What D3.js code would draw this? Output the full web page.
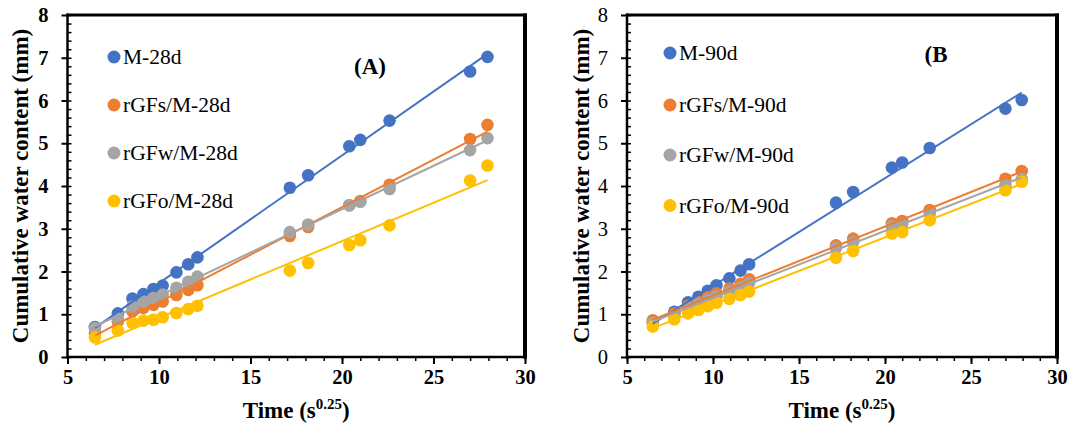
<!DOCTYPE html>
<html><head><meta charset="utf-8">
<script src="https://cdn.jsdelivr.net/npm/d3@7"></script>
<style>
html,body{margin:0;padding:0;background:#fff;}
svg{display:block;font-family:"Liberation Serif","Times New Roman",serif;}
</style></head>
<body>
<svg id="chart" width="1071" height="425"></svg>
<script>
// ---- data ----
const time = [6.5, 7.75, 8.55, 9.15, 9.7, 10.2, 10.95, 11.6, 12.1, 17.15, 18.15, 20.4, 21.0, 22.6, 27.0, 27.95];

const namesA = ["M-28d", "rGFs/M-28d", "rGFw/M-28d", "rGFo/M-28d"];
const mA = [0.70,1.02,1.37,1.47,1.59,1.67,1.98,2.17,2.33,3.96,4.25,4.93,5.08,5.53,6.68,7.02];
const sA = [0.55,0.83,1.07,1.15,1.22,1.30,1.45,1.57,1.68,2.83,3.04,3.55,3.65,4.03,5.10,5.43];
const wA = [0.68,0.90,1.18,1.30,1.38,1.46,1.62,1.76,1.88,2.92,3.10,3.55,3.63,3.93,4.84,5.12];
const oA = [0.46,0.62,0.80,0.85,0.87,0.93,1.03,1.12,1.20,2.02,2.20,2.62,2.73,3.08,4.13,4.48];

const namesB = ["M-90d", "rGFs/M-90d", "rGFw/M-90d", "rGFo/M-90d"];
const mB = [0.80,1.06,1.28,1.41,1.55,1.68,1.84,2.02,2.17,3.61,3.86,4.43,4.55,4.89,5.81,6.01];
const sB = [0.86,1.02,1.20,1.30,1.40,1.49,1.60,1.71,1.82,2.61,2.77,3.13,3.18,3.44,4.17,4.35];
const wB = [0.80,0.97,1.15,1.24,1.33,1.42,1.53,1.63,1.73,2.55,2.69,3.06,3.10,3.36,4.02,4.16];
const oB = [0.71,0.88,1.02,1.10,1.19,1.27,1.36,1.45,1.53,2.32,2.48,2.89,2.92,3.20,3.90,4.10];

const xTicks = [5, 10, 15, 20, 25, 30];
const yTicks = [0, 1, 2, 3, 4, 5, 6, 7, 8];
const colors = ["#4472C4", "#ED7D31", "#A5A5A5", "#FFC000"];

const svg = d3.select("#chart");

function regress(xs, ys) {
  const mx = d3.mean(xs), my = d3.mean(ys);
  let num = 0, den = 0;
  xs.forEach((x, i) => { num += (x - mx) * (ys[i] - my); den += (x - mx) * (x - mx); });
  const b = num / den;
  return { a: my - b * mx, b };
}

function panel(cfg) {
  const x = d3.scaleLinear().domain([5, 30]).range([cfg.x0, cfg.x1]);
  const y = d3.scaleLinear().domain([0, 8]).range([357, 15]);
  const g = svg.append("g");

  // minor y ticks (inside)
  const yMinor = d3.range(0, 8.001, 0.2);
  g.append("g").attr("transform", `translate(${cfg.x0},0)`)
    .call(d3.axisRight(y).tickValues(yMinor).tickSize(4).tickFormat(""))
    .call(s => s.select(".domain").remove())
    .selectAll("line").attr("stroke", "#000").attr("stroke-width", 1.5);
  // major y ticks
  const yax = g.append("g").attr("transform", `translate(${cfg.x0},0)`)
    .call(d3.axisLeft(y).tickValues(yTicks).tickSize(6).tickPadding(13).tickFormat(d3.format("d")));
  yax.select(".domain").remove();
  yax.selectAll("line").attr("stroke", "#000").attr("stroke-width", 2);
  yax.selectAll("text").attr("font-family", "Liberation Serif").attr("font-size", 20.5)
    .attr("font-weight", cfg.yBold ? "bold" : "normal").attr("fill", "#000");

  // minor x ticks
  g.append("g").attr("transform", "translate(0,357)")
    .call(d3.axisBottom(x).tickValues(d3.range(5, 31, 1)).tickSize(4).tickFormat(""))
    .call(s => s.select(".domain").remove())
    .selectAll("line").attr("stroke", "#000").attr("stroke-width", 1.5);
  const xax = g.append("g").attr("transform", "translate(0,357)")
    .call(d3.axisBottom(x).tickValues(xTicks).tickSize(7).tickPadding(5).tickFormat(d3.format("d")));
  xax.select(".domain").remove();
  xax.selectAll("line").attr("stroke", "#000").attr("stroke-width", 2);
  xax.selectAll("text").attr("font-family", "Liberation Serif").attr("font-size", 20.5)
    .attr("font-weight", "bold").attr("fill", "#000");

  // points
  cfg.series.forEach((vals, i) => {
    g.append("g").selectAll("circle").data(vals).join("circle")
      .attr("cx", (d, j) => x(time[j])).attr("cy", d => y(d)).attr("r", 6.3)
      .attr("fill", colors[i]);
  });
  // trend lines
  const xmin = d3.min(time), xmax = d3.max(time);
  cfg.series.forEach((vals, i) => {
    const r = regress(time, vals);
    g.append("line")
      .attr("x1", x(xmin)).attr("y1", y(r.a + r.b * xmin))
      .attr("x2", x(xmax)).attr("y2", y(r.a + r.b * xmax))
      .attr("stroke", colors[i]).attr("stroke-width", 2);
  });

  // frame
  g.append("line").attr("x1", cfg.x0).attr("x2", cfg.x0).attr("y1", 13.5).attr("y2", 358.5).attr("stroke", "#000").attr("stroke-width", 2.5);
  g.append("line").attr("x1", cfg.x0 - 1).attr("x2", cfg.x1 + 2).attr("y1", 357).attr("y2", 357).attr("stroke", "#000").attr("stroke-width", 2.5);
  g.append("line").attr("x1", cfg.x0 - 1).attr("x2", cfg.x1 + 2).attr("y1", 15).attr("y2", 15).attr("stroke", "#000").attr("stroke-width", 3);
  g.append("line").attr("x1", cfg.x1).attr("x2", cfg.x1).attr("y1", 13.5).attr("y2", 358.5).attr("stroke", "#000").attr("stroke-width", 4);

  // legend
  cfg.names.forEach((n, i) => {
    const ly = cfg.legY[i];
    g.append("circle").attr("cx", cfg.legX).attr("cy", ly).attr("r", 6.5).attr("fill", colors[i]);
    g.append("text").attr("x", cfg.legX + 9).attr("y", ly + 7).attr("font-size", 21.5)
      .attr("fill", "#000").text(n);
  });

  // panel label
  g.append("text").attr("x", cfg.labX).attr("y", cfg.labY).attr("text-anchor", "middle")
    .attr("font-size", 23).attr("font-weight", "bold").attr("fill", "#000").text(cfg.label);

  // axis titles
  g.append("text").attr("transform", `translate(${cfg.yTitleX},186) rotate(-90)`)
    .attr("text-anchor", "middle").attr("font-size", 23).attr("font-weight", "bold")
    .attr("fill", "#000").text("Cumulative water content (mm)");
  const t = g.append("text").attr("x", (cfg.x0 + cfg.x1) / 2).attr("y", 418)
    .attr("text-anchor", "middle").attr("font-size", 23).attr("font-weight", "bold").attr("fill", "#000");
  t.append("tspan").text("Time (s");
  t.append("tspan").attr("font-size", 15).attr("dy", -9).text("0.25");
  t.append("tspan").attr("dy", 9).text(")");
}

panel({ x0: 67.5, x1: 525, series: [mA, sA, wA, oA], names: namesA, yBold: true,
  legX: 114, legY: [57, 105, 153, 201], label: "(A)", labX: 370, labY: 74, yTitleX: 28 });
panel({ x0: 627, x1: 1057, series: [mB, sB, wB, oB], names: namesB, yBold: false,
  legX: 670, legY: [53, 105, 155, 205.5], label: "(B", labX: 936, labY: 62, yTitleX: 589 });
</script>
</body></html>
